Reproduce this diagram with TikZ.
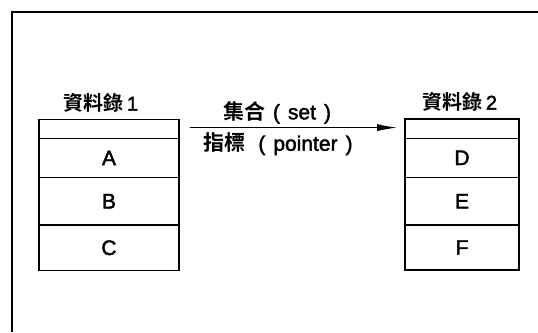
\documentclass[tikz,border=0pt]{standalone}
\usepackage{fontspec}
\setmainfont{Liberation Sans}[FakeBold=2]
\newfontfamily\cjk{Noto Sans CJK TC Bold}
\usetikzlibrary{arrows.meta}
\newcommand\gap{\hspace{8pt}}
\begin{document}
\begin{tikzpicture}[x=1pt,y=-1pt,
  cellA/.style={draw,line width=1.6pt,minimum width=140pt,inner sep=0pt,font=\fontsize{21}{23}\selectfont},
  cellB/.style={draw,line width=1.6pt,minimum width=114pt,inner sep=0pt,font=\fontsize{21}{23}\selectfont},
  title/.style={font=\fontsize{20}{22}\selectfont,inner sep=0pt},
  lab/.style={font=\fontsize{21}{23}\selectfont,inner sep=0pt},
  arr/.style={line width=0.9pt,-{Latex[length=20pt,width=7pt]}}]
\useasboundingbox (0,0) rectangle (538,332);
\draw[line width=1.3pt] (538,12) -- (12,12) -- (12,332);
% box 1
\node[cellA,minimum height=19pt] (h1) at (109,129) {};
\node[cellA,minimum height=39pt] (a) at (109,158) {A};
\node[cellA,minimum height=47.6pt] (b) at (109,201.2) {B};
\node[cellA,minimum height=45.7pt] (c) at (109,247.8) {C};
\node[title] (t1) at (101,103) {{\cjk 資料錄}\hspace{3pt}1};
% box 2
\node[cellB,minimum height=19.6pt] (h2) at (462,128.5) {};
\node[cellB,minimum height=39pt] (d) at (462,157.8) {D};
\node[cellB,minimum height=47.6pt] (e) at (462,201.2) {E};
\node[cellB,minimum height=45pt] (f) at (462,247.5) {F};
\node[title] (t2) at (460,102) {{\cjk 資料錄}\hspace{3pt}2};
% arrow
\coordinate (s) at (189.7,127.6);
\coordinate (t) at (397,127.6);
\draw[arr] (s) -- (t);
\node[lab] (l1) at (277,112.5) {{\cjk 集合}\gap(\gap set\gap)};
\node[lab] (l2) at (278,144) {{\cjk 指標}\hspace{13pt}(\gap pointer\gap)};
\end{tikzpicture}
\end{document}
